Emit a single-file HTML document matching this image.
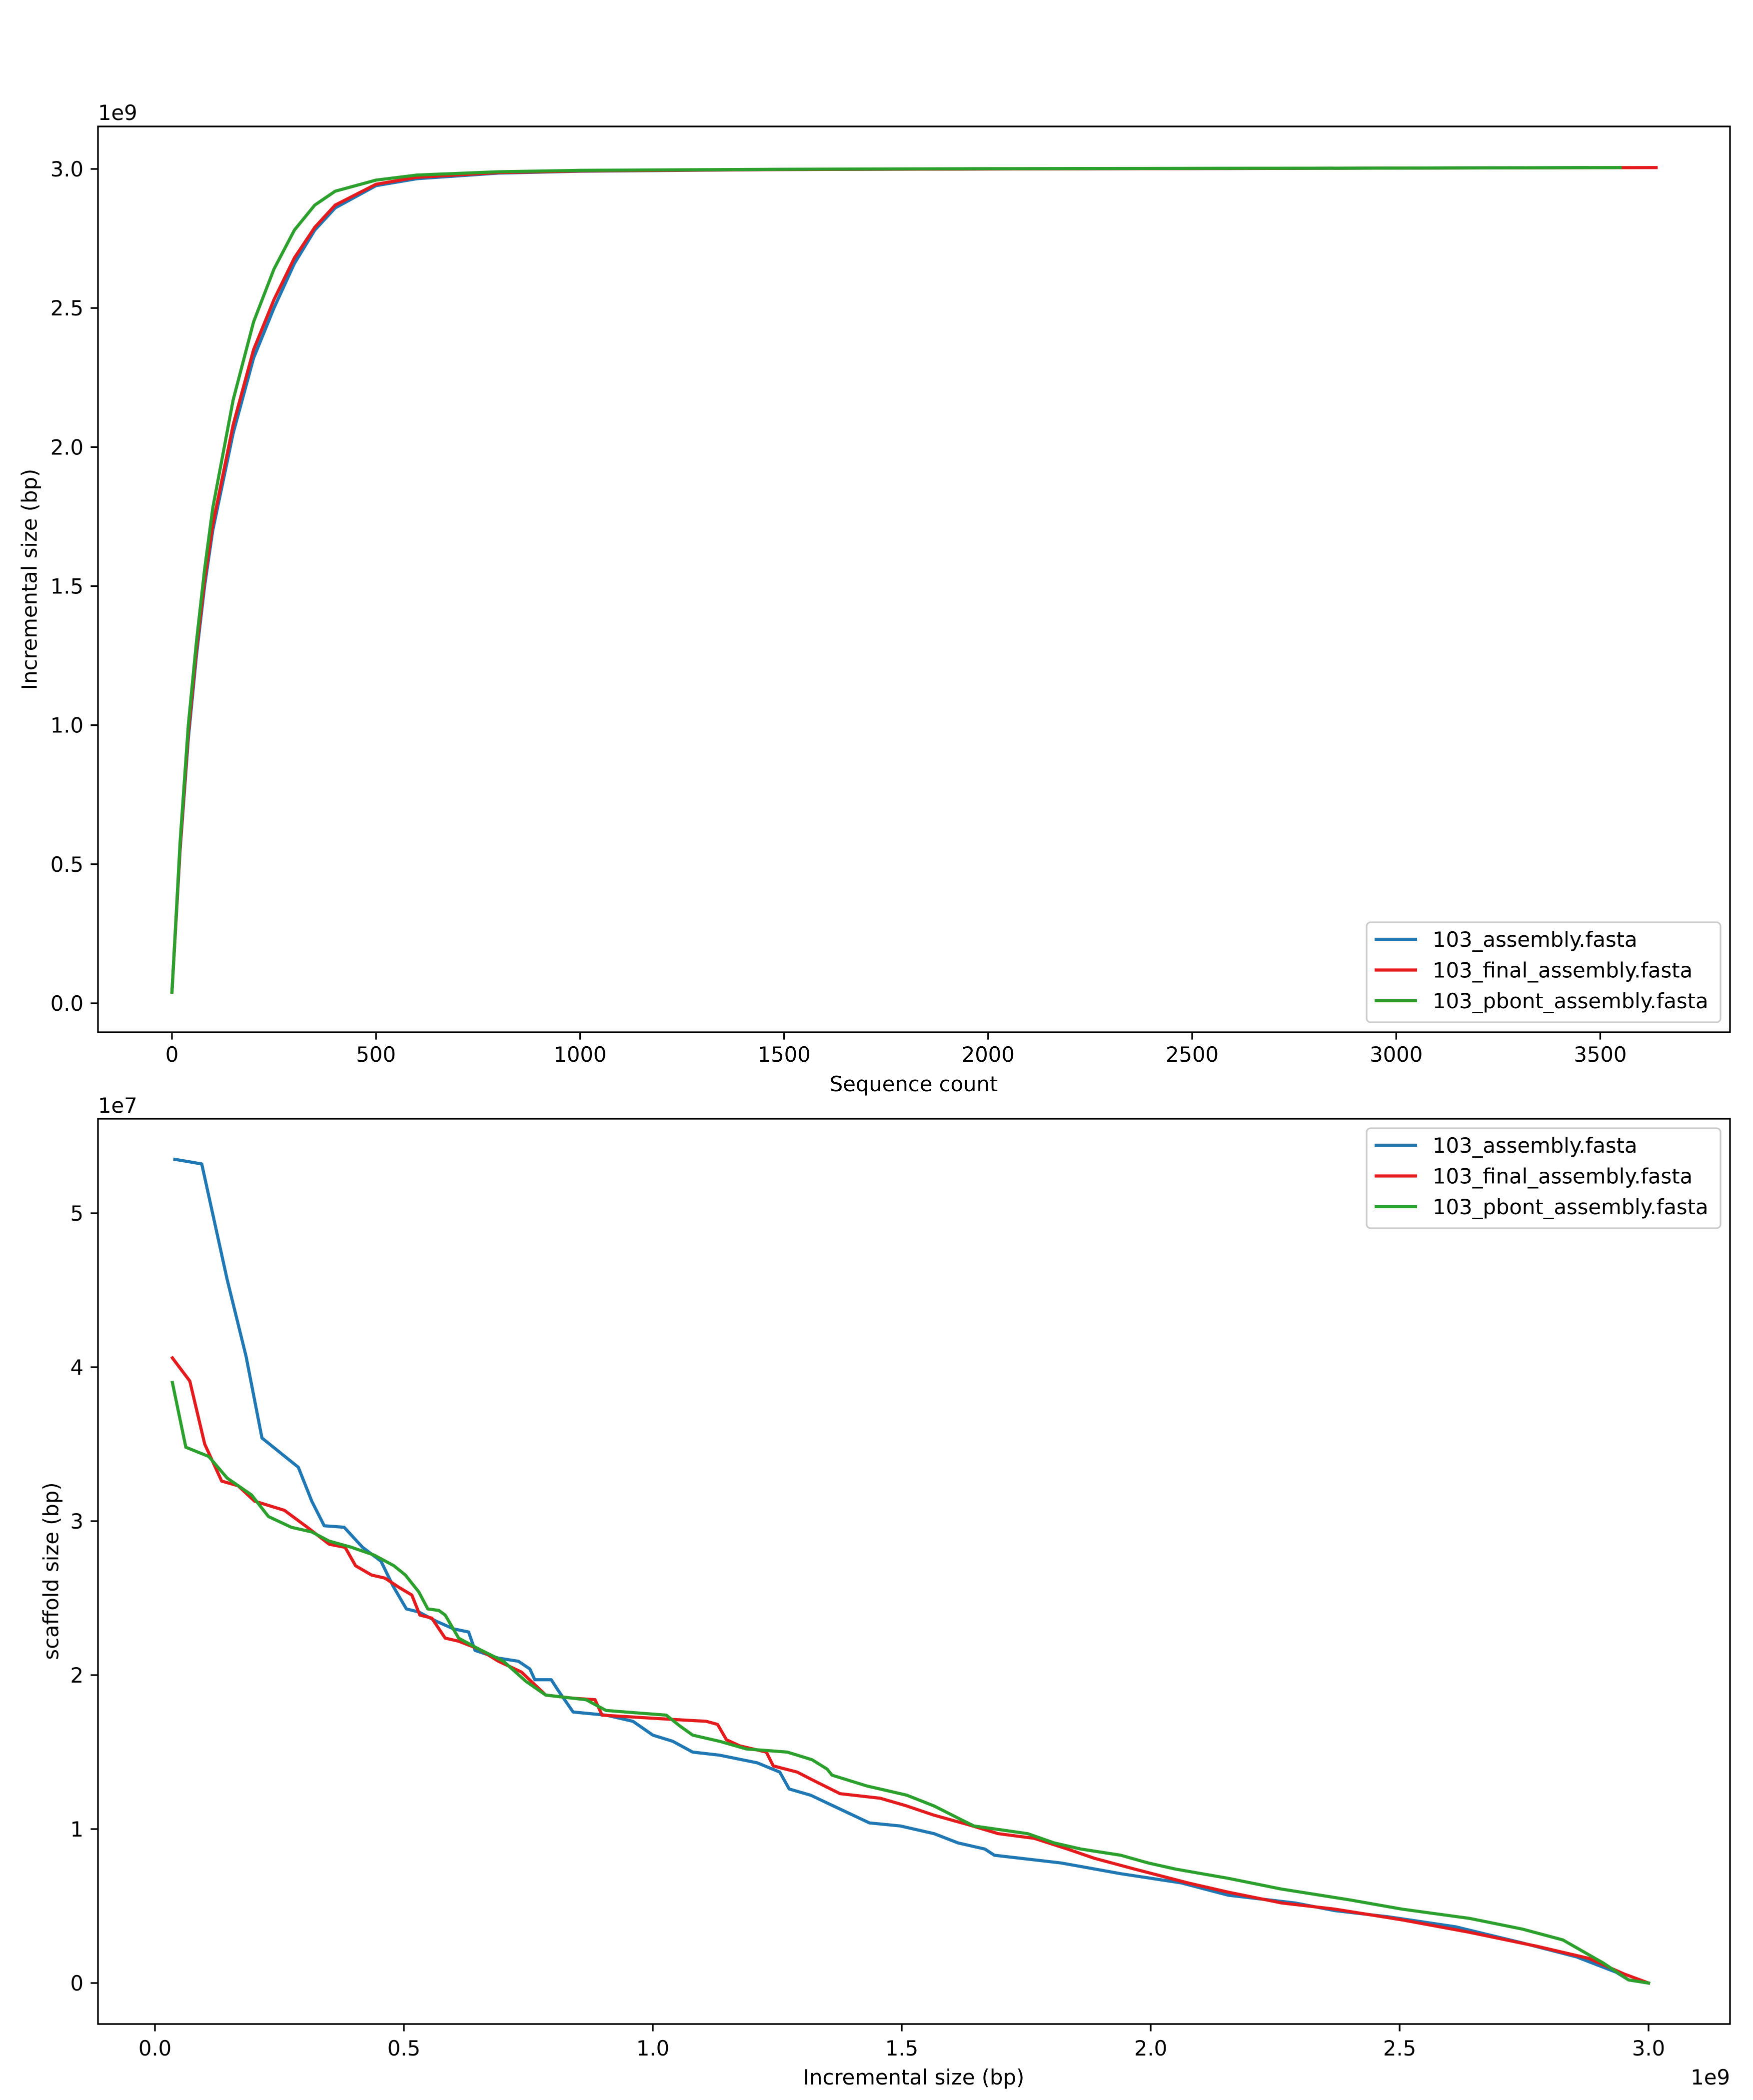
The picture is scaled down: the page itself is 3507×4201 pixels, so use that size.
<!DOCTYPE html>
<html><head><meta charset="utf-8">
<style>
html,body{margin:0;padding:0;background:#fff;}
svg{display:block;}
text{font-family:"DejaVu Sans","Liberation Sans",sans-serif;font-size:41.7px;fill:#000;}
</style></head>
<body>
<svg id="chart" xmlns="http://www.w3.org/2000/svg" width="3507" height="4201" viewBox="0 0 3507 4201">
<rect width="3507" height="4201" fill="#fff"/>
</svg>
<script>
// ---- Top chart data (sequence count vs cumulative size, 1e9 bp) ----
const topCountsBlue = [0,20,40,60,80,100,150,200,250,300,350,400,500,600,800,1000,1500,2000,3000,3467];
const topBlue = [0.04,0.55,0.95,1.25,1.5,1.7,2.05,2.32,2.5,2.66,2.78,2.86,2.94,2.965,2.985,2.992,2.998,3.0,3.003,3.005];
const topCountsRed = [0,20,40,60,80,100,150,200,250,300,350,400,500,600,800,1000,1500,2000,3000,3637];
const topRed = [0.04,0.56,0.97,1.27,1.52,1.72,2.08,2.35,2.53,2.68,2.79,2.87,2.945,2.97,2.987,2.993,2.998,3.0,3.003,3.005];
const topCountsGreen = [0,20,40,60,80,100,150,200,250,300,350,400,500,600,800,1000,1500,2000,3000,3549];
const topGreen = [0.04,0.58,1.0,1.3,1.56,1.78,2.17,2.45,2.64,2.78,2.87,2.92,2.96,2.978,2.99,2.995,2.999,3.001,3.003,3.005];
const topXTicks = [0,500,1000,1500,2000,2500,3000,3500];
const topYTicks = [0.0,0.5,1.0,1.5,2.0,2.5,3.0];
const topYTickLabels = ["0.0","0.5","1.0","1.5","2.0","2.5","3.0"];

// ---- Bottom chart data (cumulative size 1e9 vs scaffold size 1e7) ----
const botBlueX = [0.04,0.094,0.145,0.183,0.215,0.288,0.315,0.34,0.38,0.417,0.454,0.478,0.505,0.53,0.565,0.6,0.63,0.643,0.69,0.73,0.753,0.763,0.796,0.81,0.84,0.906,0.96,1.0,1.04,1.08,1.134,1.21,1.255,1.274,1.317,1.376,1.435,1.497,1.565,1.613,1.667,1.686,1.82,1.94,2.062,2.156,2.29,2.37,2.478,2.613,2.747,2.855,2.935,2.96,3.0];
const botBlueY = [5.35,5.32,4.57,4.07,3.54,3.35,3.13,2.97,2.96,2.83,2.74,2.58,2.43,2.41,2.35,2.30,2.28,2.16,2.11,2.09,2.04,1.97,1.97,1.90,1.76,1.74,1.70,1.61,1.57,1.50,1.48,1.43,1.37,1.26,1.22,1.13,1.04,1.02,0.97,0.91,0.87,0.83,0.78,0.71,0.65,0.57,0.52,0.47,0.43,0.365,0.26,0.17,0.07,0.02,0.0];
const botRedX = [0.035,0.07,0.1,0.134,0.167,0.2,0.26,0.306,0.35,0.382,0.403,0.435,0.462,0.49,0.516,0.532,0.556,0.583,0.61,0.65,0.69,0.736,0.785,0.84,0.884,0.898,1.05,1.107,1.13,1.148,1.175,1.228,1.242,1.29,1.32,1.376,1.457,1.51,1.565,1.632,1.694,1.766,1.833,1.887,1.968,2.075,2.156,2.263,2.37,2.505,2.64,2.774,2.88,2.95,3.0];
const botRedY = [4.06,3.91,3.50,3.26,3.23,3.13,3.07,2.96,2.85,2.83,2.71,2.65,2.63,2.57,2.52,2.39,2.37,2.24,2.22,2.17,2.09,2.02,1.87,1.85,1.84,1.74,1.71,1.70,1.68,1.58,1.54,1.50,1.41,1.37,1.32,1.23,1.20,1.15,1.09,1.03,0.97,0.94,0.87,0.81,0.74,0.65,0.59,0.52,0.48,0.41,0.33,0.24,0.16,0.06,0.0];
const botGreenX = [0.035,0.062,0.108,0.145,0.194,0.228,0.274,0.315,0.35,0.395,0.44,0.48,0.503,0.53,0.548,0.57,0.583,0.61,0.65,0.7,0.745,0.785,0.866,0.906,1.027,1.054,1.08,1.134,1.188,1.27,1.32,1.35,1.36,1.43,1.51,1.565,1.62,1.645,1.753,1.806,1.86,1.94,1.995,2.05,2.156,2.263,2.4,2.505,2.64,2.747,2.828,2.909,2.96,3.0];
const botGreenY = [3.9,3.48,3.42,3.28,3.17,3.03,2.96,2.93,2.87,2.83,2.78,2.71,2.65,2.54,2.43,2.42,2.39,2.24,2.17,2.09,1.96,1.87,1.84,1.77,1.74,1.67,1.61,1.57,1.52,1.50,1.45,1.39,1.35,1.28,1.22,1.15,1.06,1.02,0.97,0.91,0.87,0.83,0.78,0.74,0.68,0.61,0.54,0.48,0.42,0.35,0.28,0.13,0.02,0.0];
const botXTicks = [0.0,0.5,1.0,1.5,2.0,2.5,3.0];
const botXTickLabels = ["0.0","0.5","1.0","1.5","2.0","2.5","3.0"];
const botYTicks = [0,1,2,3,4,5];

const seriesNames = ["103_assembly.fasta","103_final_assembly.fasta","103_pbont_assembly.fasta"];
const colors = ["#1f77b4","#e41a1c","#2ca02c"];

const NS = "http://www.w3.org/2000/svg";
const svg = document.getElementById("chart");
function mk(tag, attrs, parent){
  const e = document.createElementNS(NS, tag);
  for (const k in attrs) e.setAttribute(k, attrs[k]);
  (parent||svg).appendChild(e);
  return e;
}
function txt(s, attrs, parent){ const e = mk("text", attrs, parent); e.textContent = s; return e; }

// axis functions
const xT = v => 344 + v*0.8164;
const yT = v => 2007 - v*(1669/3);
const xB = v => 310 + v*996;
const yB = v => 3967 - v*308;

function drawPanel(cfg){
  const g = mk("g", {});
  
  
  const L=196, R=3461, T=cfg.top, B=cfg.bottom;
  // lines
  cfg.series.forEach((s,i)=>{
    const d = s.x.map((xv,j)=>(j?"L":"M")+cfg.fx(xv).toFixed(1)+" "+cfg.fy(s.y[j]).toFixed(1)).join(" ");
    const p = mk("path", {d:d, fill:"none", stroke:colors[i], "stroke-width":6.25, "stroke-linejoin":"round", "stroke-linecap":"square"}, g);
    
    
  });
  // frame
  const fr = mk("rect", {x:L, y:T, width:R-L, height:B-T, fill:"none", stroke:"#000", "stroke-width":3.3}, g);
  
  
  // x ticks
  cfg.xticks.forEach((t,i)=>{
    const x = cfg.fx(t);
    mk("line", {x1:x, x2:x, y1:B, y2:B+14.6, stroke:"#000", "stroke-width":3.3}, g);
    const lab = txt(cfg.xlabels[i], {x:x, y:cfg.xTickBase, "text-anchor":"middle"}, g);
    
    
  });
  cfg.yticks.forEach((t,i)=>{
    const y = cfg.fy(t);
    mk("line", {x1:L-14.6, x2:L, y1:y, y2:y, stroke:"#000", "stroke-width":3.3}, g);
    const lab = txt(cfg.ylabels[i], {x:167, y:y+15, "text-anchor":"end"}, g);
    
    
  });
  // legend
  const lg = mk("g", {}, g);
  
  
  mk("rect", {x:2734, y:cfg.legTop, width:708, height:200, rx:8, fill:"#fff", "fill-opacity":0.8, stroke:"#ccc", "stroke-width":3.3}, lg);
  seriesNames.forEach((n,i)=>{
    const cy = cfg.legTop + 34 + i*61.5;
    const e = mk("g", {}, lg);
    
    
    mk("line", {x1:2750, x2:2835, y1:cy, y2:cy, stroke:colors[i], "stroke-width":6.25}, e);
    txt(n, {x:2866, y:cy+15}, e);
  });
}

drawPanel({name:"cumulative-chart", top:253, bottom:2065, fx:xT, fy:yT,
  series:[{x:topCountsBlue,y:topBlue},{x:topCountsRed,y:topRed},{x:topCountsGreen,y:topGreen}],
  xticks:topXTicks, xlabels:topXTicks.map(String), yticks:topYTicks, ylabels:topYTickLabels,
  xTickBase:2124, legTop:1845});
drawPanel({name:"scaffold-chart", top:2238, bottom:4049, fx:xB, fy:yB,
  series:[{x:botBlueX,y:botBlueY},{x:botRedX,y:botRedY},{x:botGreenX,y:botGreenY}],
  xticks:botXTicks, xlabels:botXTickLabels, yticks:botYTicks, ylabels:botYTicks.map(String),
  xTickBase:4112, legTop:2257});

// axis titles and offsets
let t;
t = txt("1e9", {x:196, y:240});  
t = txt("Sequence count", {x:1828, y:2183, "text-anchor":"middle"});  
t = txt("Incremental size (bp)", {x:59, y:1159, "text-anchor":"middle", "dominant-baseline":"central", transform:"rotate(-90 59 1159)"});  
t = txt("1e7", {x:196, y:2226});  
t = txt("scaffold size (bp)", {x:102, y:3143, "text-anchor":"middle", "dominant-baseline":"central", transform:"rotate(-90 102 3143)"});  
t = txt("Incremental size (bp)", {x:1828, y:4170, "text-anchor":"middle"});  
t = txt("1e9", {x:3461, y:4170, "text-anchor":"end"});  
</script>
</body></html>
